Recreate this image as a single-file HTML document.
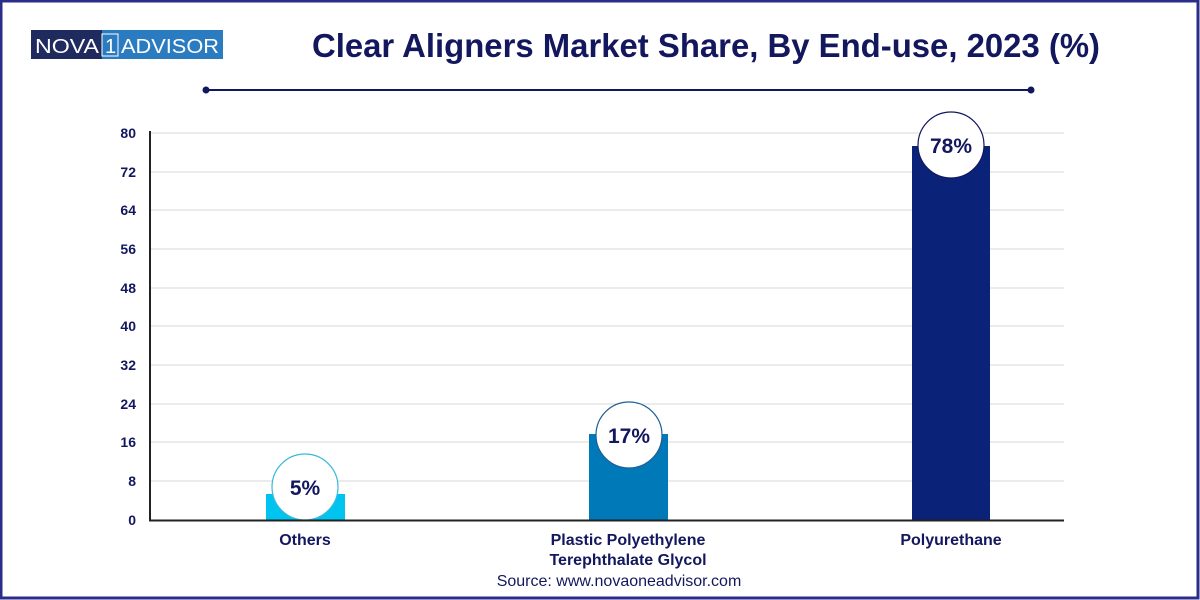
<!DOCTYPE html>
<html><head><meta charset="utf-8"><style>
html,body{margin:0;padding:0;background:#fff}
svg{display:block}
text{font-family:"Liberation Sans",Arial,sans-serif}
</style></head><body>
<svg width="1200" height="600" viewBox="0 0 1200 600" xmlns="http://www.w3.org/2000/svg">
<rect x="0" y="0" width="1200" height="600" fill="#fff"/>
<rect x="1" y="1" width="1197" height="597" fill="none" stroke="#2b2d8a" stroke-width="3"/>
<!-- logo -->
<rect x="31" y="30" width="71" height="29" fill="#1f2a5e"/>
<rect x="102" y="30" width="121" height="29" fill="#2a7bc0"/>
<rect x="102" y="34" width="16" height="22" fill="none" stroke="#fff" stroke-width="1"/>
<text x="35" y="53" font-size="20" fill="#fff" textLength="64" lengthAdjust="spacingAndGlyphs">NOVA</text>
<text x="105" y="53" font-size="20" fill="#fff">1</text>
<text x="121" y="53" font-size="20" fill="#fff" textLength="98" lengthAdjust="spacingAndGlyphs">ADVISOR</text>
<!-- title -->
<text x="312" y="57" font-size="33" font-weight="bold" fill="#13175e" textLength="788" lengthAdjust="spacingAndGlyphs">Clear Aligners Market Share, By End-use, 2023 (%)</text>
<line x1="206" y1="90" x2="1031" y2="90" stroke="#13175e" stroke-width="2"/>
<circle cx="206" cy="90" r="3.5" fill="#13175e"/>
<circle cx="1031" cy="90" r="3.5" fill="#13175e"/>
<!-- grid -->
<g stroke="#ebebeb" stroke-width="2">
<line x1="150" y1="133" x2="1064" y2="133"/>
<line x1="150" y1="172" x2="1064" y2="172"/>
<line x1="150" y1="210" x2="1064" y2="210"/>
<line x1="150" y1="249" x2="1064" y2="249"/>
<line x1="150" y1="288" x2="1064" y2="288"/>
<line x1="150" y1="326" x2="1064" y2="326"/>
<line x1="150" y1="365" x2="1064" y2="365"/>
<line x1="150" y1="404" x2="1064" y2="404"/>
<line x1="150" y1="442" x2="1064" y2="442"/>
<line x1="150" y1="481" x2="1064" y2="481"/>
</g>
<g font-size="14" font-weight="bold" fill="#13175e" text-anchor="end">
<text x="136" y="138">80</text>
<text x="136" y="177">72</text>
<text x="136" y="215">64</text>
<text x="136" y="254">56</text>
<text x="136" y="293">48</text>
<text x="136" y="331">40</text>
<text x="136" y="370">32</text>
<text x="136" y="409">24</text>
<text x="136" y="447">16</text>
<text x="136" y="486">8</text>
<text x="136" y="525">0</text>
</g>
<!-- bars -->
<rect x="266" y="494" width="79" height="26" fill="#00c4f0"/>
<rect x="589" y="434" width="79" height="86" fill="#0079b8"/>
<rect x="912" y="146" width="78" height="374" fill="#0a2378"/>
<circle cx="305" cy="487" r="33" fill="#fff" stroke="#38b9dc" stroke-width="1.2"/>
<circle cx="629" cy="435" r="33" fill="#fff" stroke="#1f5f95" stroke-width="1.2"/>
<circle cx="951" cy="145" r="33" fill="#fff" stroke="#13175e" stroke-width="1.2"/>
<g font-size="21" font-weight="bold" fill="#13175e" text-anchor="middle">
<text x="305" y="495">5%</text>
<text x="629" y="443">17%</text>
<text x="951" y="153">78%</text>
</g>
<!-- axes -->
<line x1="150" y1="131" x2="150" y2="521" stroke="#222" stroke-width="2"/>
<line x1="149" y1="520.5" x2="1064" y2="520.5" stroke="#222" stroke-width="2"/>
<g font-size="16" font-weight="bold" fill="#13175e" text-anchor="middle">
<text x="305" y="545">Others</text>
<text x="628" y="545">Plastic Polyethylene</text>
<text x="628" y="565">Terephthalate Glycol</text>
<text x="951" y="545">Polyurethane</text>
</g>
<text x="619" y="586" font-size="16" fill="#13175e" text-anchor="middle">Source: www.novaoneadvisor.com</text>
</svg>
</body></html>
